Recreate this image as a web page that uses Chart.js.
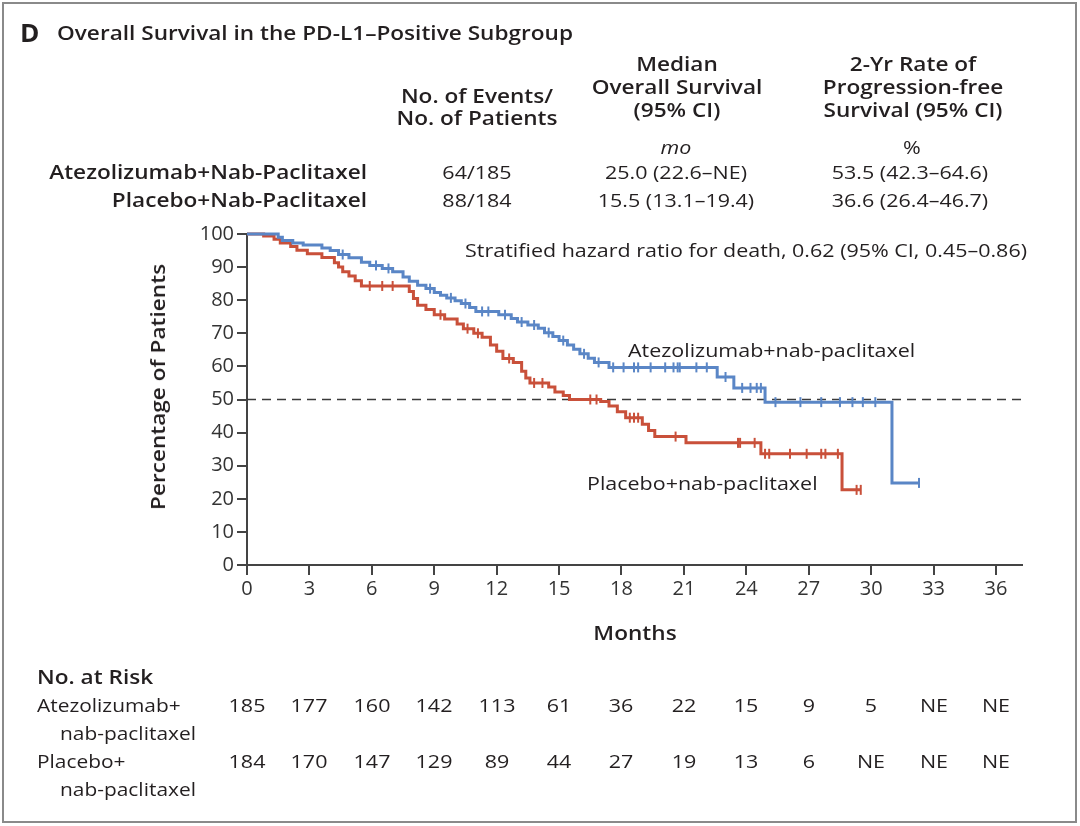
<!DOCTYPE html>
<html>
<head>
<meta charset="utf-8">
<script src="https://cdn.jsdelivr.net/npm/chart.js@4"></script>
<style>
  html, body { margin: 0; padding: 0; background: #fff; }
  body { width: 1080px; height: 826px; position: relative; overflow: hidden; font-family: "Open Sans", Lato, sans-serif; color: #231f20; }
  #frame { position: absolute; left: 2px; top: 2px; width: 1071px; height: 817px; border: 2px solid #8a8a8a; }
  #c { position: absolute; left: 0; top: 0; }
  .t { position: absolute; white-space: nowrap; line-height: 1; }
</style>
</head>
<body>
<div id="frame"></div>
<canvas id="c" width="1080" height="826"></canvas>
<script>
// ---- data ----
const atezoSteps = [[0,100],[1.5,99],[1.7,98],[2.2,97.3],[2.7,96.7],[3.6,95.8],[4.0,95],[4.4,93.8],[4.9,92.8],[5.5,91.5],[5.9,90.5],[6.5,89.6],[7.0,88.6],[7.5,87],[7.8,85.7],[8.2,84.5],[8.6,83.5],[9.0,82.3],[9.3,81.5],[9.6,80.7],[10.0,79.8],[10.3,79],[10.7,77.8],[11.0,76.6],[12.1,75.6],[12.7,74.5],[13.0,73.4],[13.5,72.5],[14.0,71.5],[14.3,70.2],[14.7,69],[15.0,67.8],[15.4,66.5],[15.7,65.2],[16.0,63.8],[16.4,62.5],[16.7,61.2],[17.4,59.7],[22.6,56.8],[23.4,53.5],[24.9,49.2],[31.0,24.8],[32.3,24.8]];
const placeboSteps = [[0,100],[0.8,99.4],[1.3,98.4],[1.6,97.3],[2.1,96.2],[2.4,95.1],[2.9,94],[3.6,92.9],[4.2,91.3],[4.4,90],[4.6,88.6],[4.9,87.3],[5.2,85.9],[5.5,84.3],[7.8,82.6],[8.0,80.5],[8.2,78.5],[8.6,77.2],[9.0,75.6],[9.5,74.3],[10.1,72.8],[10.4,71.4],[10.9,70],[11.3,68.8],[11.7,66.5],[12.0,64.6],[12.3,62.4],[12.8,61.2],[13.2,58.5],[13.4,56.5],[13.6,55.0],[14.5,53.8],[14.8,52.3],[15.2,51.2],[15.5,50.0],[17.0,49.4],[17.4,48],[17.8,46.3],[18.2,44.5],[19.0,42.5],[19.3,40.6],[19.6,38.8],[21.1,36.9],[24.7,33.6],[28.6,22.7],[29.5,22.7]];
const atezoCensored = [[4.6,93.8],[6.2,90.5],[6.8,89.6],[8.8,83.5],[9.8,80.7],[10.5,79],[11.3,76.6],[11.6,76.6],[12.4,75.6],[13.2,73.4],[13.8,72.5],[14.5,70.2],[15.2,67.8],[16.2,63.8],[16.9,61.2],[17.6,59.7],[18.1,59.7],[18.6,59.7],[18.8,59.7],[19.4,59.7],[20.1,59.7],[20.5,59.7],[20.7,59.7],[20.8,59.7],[21.6,59.7],[22.1,59.7],[23.0,56.8],[23.8,53.5],[24.2,53.5],[24.5,53.5],[24.7,53.5],[25.4,49.2],[26.6,49.2],[27.6,49.2],[28.5,49.2],[29.1,49.2],[29.6,49.2],[30.2,49.2],[32.3,24.8]];
const placeboCensored = [[5.9,84.3],[6.5,84.3],[7.0,84.3],[9.3,75.6],[10.6,71.4],[11.1,70],[12.6,62.4],[13.8,55],[14.2,55],[16.5,50],[16.8,50],[18.4,44.5],[18.6,44.5],[18.8,44.5],[20.6,38.8],[23.6,36.9],[23.7,36.9],[24.4,36.9],[24.9,33.6],[25.1,33.6],[26.1,33.6],[26.9,33.6],[27.6,33.6],[27.8,33.6],[28.4,33.6],[29.3,22.7],[29.5,22.7]];
const medianLine = [[0,50],[37.25,50]];
const xTicks = [0,3,6,9,12,15,18,21,24,27,30,33,36];
const yTicks = [0,10,20,30,40,50,60,70,80,90,100];
const riskAtezo = ['185','177','160','142','113','61','36','22','15','9','5','NE','NE'];
const riskPlacebo = ['184','170','147','129','89','44','27','19','13','6','NE','NE','NE'];
const groups = ['Atezolizumab+Nab-Paclitaxel','Placebo+Nab-Paclitaxel'];
const events = ['64/185','88/184'];
const medianOS = ['25.0 (22.6–NE)','15.5 (13.1–19.4)'];
const rate2yr = ['53.5 (42.3–64.6)','36.6 (26.4–46.7)'];

const BLUE = '#5a86c6';
const RED = '#c9503a';
const AX = '#444';
const SX = 1.13; // horizontal stretch of the reference lettering

function pts(a) { return a.map(p => ({x: p[0], y: p[1]})); }

function T(text, x, y, o) {
  o = o || {};
  const d = document.createElement('div');
  d.className = 't';
  d.textContent = text;
  d.style.fontSize = (o.size || 19) + 'px';
  if (o.bold) d.style.fontWeight = o.bold === true ? '700' : o.bold;
  if (o.italic) d.style.fontStyle = 'italic';
  d.style.left = x + 'px';
  d.style.top = y + 'px';
  const al = o.align || 'center';
  const ax = al === 'right' ? '-100%' : (al === 'left' ? '0' : '-50%');
  d.style.transformOrigin = (al === 'right' ? 'right' : (al === 'left' ? 'left' : 'center')) + ' center';
  d.style.transform = 'translate(' + ax + ',-50%) scaleX(' + (o.sx || SX) + ')';
  document.body.appendChild(d);
  return d;
}

// ---- header text ----
T('D', 20, 32, {bold: true, size: 25, align: 'left', sx: 1.05});
T('Overall Survival in the PD-L1–Positive Subgroup', 57, 33, {bold: 600, size: 20, align: 'left'});
T('No. of Events/', 477, 96, {bold: 600, size: 20});
T('No. of Patients', 477, 118, {bold: 600, size: 20});
T('Median', 677, 64, {bold: 600, size: 20});
T('Overall Survival', 677, 87, {bold: 600, size: 20});
T('(95% CI)', 677, 110, {bold: 600, size: 20});
T('2-Yr Rate of', 913, 64, {bold: 600, size: 20});
T('Progression-free', 913, 87, {bold: 600, size: 20});
T('Survival (95% CI)', 913, 110, {bold: 600, size: 20});
T('mo', 676, 147, {italic: true, size: 19});
T('%', 912, 147, {size: 19});
[172, 200].forEach((y, i) => {
  T(groups[i], 367, y, {bold: 600, size: 20, align: 'right'});
  T(events[i], 477, y, {size: 19});
  T(medianOS[i], 676, y, {size: 19});
  T(rate2yr[i], 910, y, {size: 19});
});

// annotations
T('Stratified hazard ratio for death, 0.62 (95% CI, 0.45–0.86)', 1027, 250, {size: 19, align: 'right'});
T('Atezolizumab+nab-paclitaxel', 628, 350, {size: 19, align: 'left'});
T('Placebo+nab-paclitaxel', 587, 483, {size: 19, align: 'left'});

// axis titles
const yt = T('Percentage of Patients', 0, 0, {bold: 600, size: 20});
yt.style.transformOrigin = 'center center';
yt.style.transform = 'translate(-50%,-50%) rotate(-90deg) scaleX(' + SX + ')';
yt.style.left = '158px'; yt.style.top = '387px';
T('Months', 635, 633, {bold: 600, size: 20});

// risk table labels
T('No. at Risk', 37, 677, {bold: 600, size: 20, align: 'left'});
T('Atezolizumab+', 37, 705, {size: 18.5, align: 'left'});
T('nab-paclitaxel', 60, 733, {size: 18.5, align: 'left'});
T('Placebo+', 37, 761, {size: 18.5, align: 'left'});
T('nab-paclitaxel', 60, 789, {size: 18.5, align: 'left'});

const tickFont = {family: '"Open Sans", Lato, sans-serif', size: 20};

const chart = new Chart(document.getElementById('c'), {
  type: 'line',
  data: {
    datasets: [
      {data: pts(medianLine), borderColor: '#3a3a3a', borderWidth: 1.6, borderDash: [9, 6], pointRadius: 0, order: 5, clip: false},
      {data: pts(placeboSteps), borderColor: RED, borderWidth: 3, stepped: 'before', pointRadius: 0, order: 2, clip: false},
      {data: pts(atezoSteps), borderColor: BLUE, borderWidth: 3, stepped: 'before', pointRadius: 0, order: 1, clip: false},
      {data: pts(placeboCensored), showLine: false, pointStyle: 'line', rotation: 90, pointRadius: 5, pointBorderWidth: 2, pointBorderColor: RED, borderColor: RED, order: 2, clip: false},
      {data: pts(atezoCensored), showLine: false, pointStyle: 'line', rotation: 90, pointRadius: 5, pointBorderWidth: 2, pointBorderColor: BLUE, borderColor: BLUE, order: 1, clip: false}
    ]
  },
  options: {
    responsive: false,
    devicePixelRatio: 1,
    animation: false,
    layout: {padding: {left: 0, top: 234, right: 58, bottom: 0}},
    plugins: {legend: {display: false}, tooltip: {enabled: false}},
    scales: {
      x: {
        type: 'linear', min: 0, max: 37.25,
        afterFit: s => { s.height = 261; },
        afterBuildTicks: s => { s.ticks = xTicks.map(v => ({value: v})); },
        ticks: {font: tickFont, color: '#333', padding: 2, maxRotation: 0, autoSkip: false},
        grid: {drawOnChartArea: false, drawTicks: true, tickLength: 10, color: AX, lineWidth: 2},
        border: {display: true, color: AX, width: 2}
      },
      y: {
        min: 0, max: 100,
        afterFit: s => { s.width = 247; },
        afterBuildTicks: s => { s.ticks = yTicks.map(v => ({value: v})); },
        ticks: {font: tickFont, color: '#333', padding: 3, autoSkip: false},
        grid: {drawOnChartArea: false, drawTicks: true, tickLength: 10, color: AX, lineWidth: 2},
        border: {display: true, color: AX, width: 2}
      }
    }
  }
});

// risk numbers aligned to the x scale
const xs = chart.scales.x;
xTicks.forEach((t, i) => {
  const px = xs.getPixelForValue(t);
  T(riskAtezo[i], px, 705, {size: 19});
  T(riskPlacebo[i], px, 761, {size: 19});
});
</script>
</body>
</html>
